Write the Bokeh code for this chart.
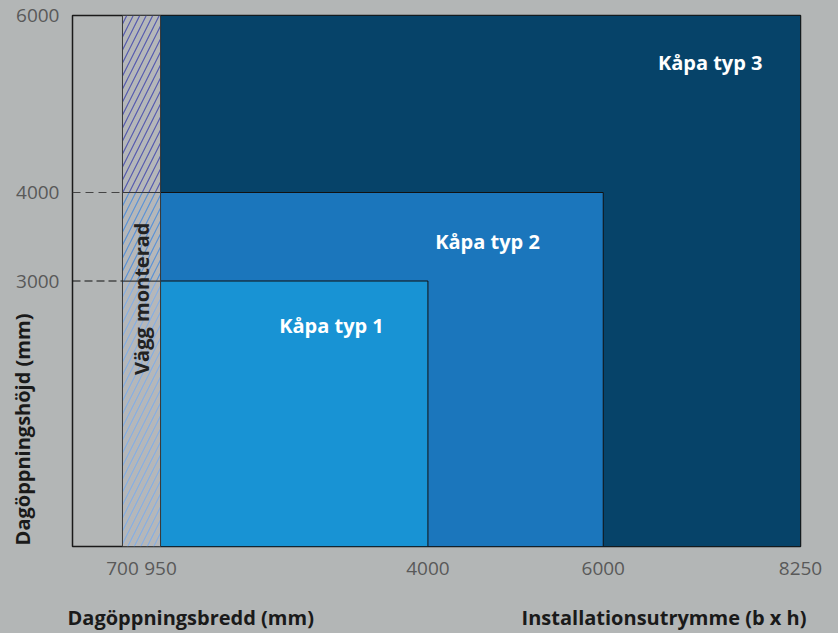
import numpy as np
from bokeh.plotting import figure
from bokeh.models import Range1d, FixedTicker, Label, ColumnDataSource, GlobalInlineStyleSheet
from bokeh.embed import file_html
from bokeh.resources import INLINE
from bokeh.core.properties import value

# ---- data ----
kapa_names = ["Kåpa typ 1", "Kåpa typ 2", "Kåpa typ 3"]
kapa_width = [4000, 6000, 8250]      # installationsutrymme bredd (mm)
kapa_height = [3000, 4000, 6000]     # installationsutrymme höjd (mm)
wall_from = 700
wall_to = 950
x_ticks = [700, 950, 4000, 6000, 8250]
y_ticks = [3000, 4000, 6000]

# ---- broken (piecewise linear) x scale, as in the original schematic ----
X_KNOTS = [0, 700, 950, 8250]
X_DISP = [0, 570, 1004, 8304]


def sx(v):
    return np.interp(v, X_KNOTS, X_DISP)


BG = "#b3b6b6"
FONT = value("Open Sans")
fill_colors = ["#1893d4", "#1b76bc", "#064369"]
hatch_colors = ["#86aee3", "#5a92d6", "#555aae"]

p = figure(width=838, height=633, output_backend="svg", toolbar_location=None,
           x_range=Range1d(0, X_DISP[-1]), y_range=Range1d(0, 6000),
           min_border_left=72, min_border_right=38, min_border_top=15, min_border_bottom=87)
p.stylesheets = [GlobalInlineStyleSheet(css="html, body { background-color: %s; }" % BG)]
p.background_fill_color = BG
p.border_fill_color = BG
p.outline_line_color = "#1a1a1a"
p.outline_line_width = 1.5
p.xgrid.visible = False
p.ygrid.visible = False

# Kåpa rectangles (largest first)
order = [2, 1, 0]
src = ColumnDataSource(dict(
    left=[sx(wall_to)] * 3,
    right=[sx(kapa_width[i]) for i in order],
    bottom=[0] * 3,
    top=[kapa_height[i] for i in order],
    color=[fill_colors[i] for i in order],
))
p.quad(left="left", right="right", bottom="bottom", top="top", fill_color="color",
       line_color="#111111", line_width=1, source=src)

# wall-mounted strip (hatched)
lows = [0] + kapa_height[:-1]
wsrc = ColumnDataSource(dict(
    left=[sx(wall_from)] * 3,
    right=[sx(wall_to)] * 3,
    bottom=lows,
    top=kapa_height,
    hcolor=hatch_colors,
))
p.quad(left="left", right="right", bottom="bottom", top="top", source=wsrc,
       fill_color="#b5b7b9", hatch_pattern="/", hatch_color="hcolor", hatch_scale=13,
       hatch_weight=1.2, line_color="#3a3a3a", line_width=1)

# dashed guide lines
p.segment(x0=[0], y0=[kapa_height[1]], x1=[sx(wall_from)], y1=[kapa_height[1]],
          line_color="#444444", line_width=1.2, line_dash="8 5")
p.segment(x0=[0], y0=[kapa_height[0]], x1=[sx(wall_from)], y1=[kapa_height[0]],
          line_color="#111111", line_width=1.2, line_dash="8 4")

# labels in the rectangles
lab_x = [sx(2900), sx(4680), sx(7220)]
lab_y = [2500, 3450, 5470]
p.text(x=lab_x, y=lab_y, text=kapa_names, text_align="center", text_baseline="middle",
       text_font=FONT, text_font_style="bold", text_font_size="20px", text_color="white")
p.text(x=[sx((wall_from + wall_to) / 2)], y=[2800], text=["Vägg monterad"], angle=np.pi / 2,
       text_align="center", text_baseline="middle", text_font=FONT, text_font_style="bold",
       text_font_size="20px", text_color="#222222")

# axes
for ax in (p.xaxis[0], p.yaxis[0]):
    ax.axis_line_color = None
    ax.major_tick_line_color = None
    ax.minor_tick_line_color = None
    ax.major_label_text_font = "Open Sans"
    ax.major_label_text_font_size = "19px"
    ax.major_label_text_color = "#595959"
p.xaxis.ticker = FixedTicker(ticks=[float(sx(t)) for t in x_ticks])
p.xaxis.major_label_overrides = {float(sx(t)): str(t) for t in x_ticks}
p.xaxis.major_label_standoff = 9
p.yaxis.ticker = FixedTicker(ticks=y_ticks)
p.yaxis.major_label_standoff = 7

# axis titles (placed in side panels so they are not clipped by the frame)
common = dict(text_font="Open Sans", text_font_style="bold",
              text_font_size="20px", text_color="#1a1a1a", text_baseline="middle")
p.add_layout(Label(x=-57, y=-802, text="Dagöppningsbredd (mm)", text_align="left", **common), "below")
p.add_layout(Label(x=8372, y=-802, text="Installationsutrymme (b x h)", text_align="right", **common), "below")
p.add_layout(Label(x=-570, y=1322, text="Dagöppningshöjd (mm)", text_align="center",
                   angle=np.pi / 2, **common), "right")

open("out.html", "w").write(file_html(p, INLINE))
